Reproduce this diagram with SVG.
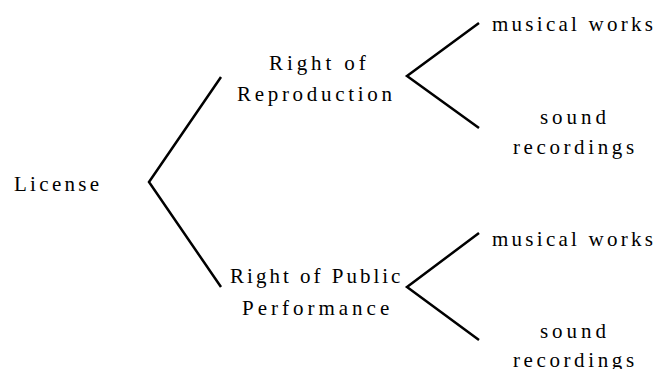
<svg xmlns="http://www.w3.org/2000/svg" width="657" height="369" viewBox="0 0 657 369">
<style>
.c{fill:none;stroke:#000;stroke-width:2.5;stroke-linecap:butt;stroke-linejoin:miter}
.t{font-family:'Liberation Serif','Times New Roman',serif;font-size:21px;fill:#000}
</style>
<rect width="657" height="369" fill="#fff"/>
<g id="connectors">
<polyline class="c" points="221,77 149,182 221,287"/>
<polyline class="c" points="479,23 407,76 479,128"/>
<polyline class="c" points="479,233 407,287 479,340"/>
</g>
<g id="license"><text class="t" x="14 30.1 39.3 51.9 64.5 78.3 89.8" y="191">License</text></g>
<g id="reproduction">
<text class="t" x="269 286.9 296.7 311.1 325.5 335.2 344.3 358.7" y="70">Right of</text>
<text class="t" x="237 254.7 267.7 281.9 292.6 306.8 321 335.2 348.2 357.8 367.3 381.5" y="101">Reproduction</text>
</g>
<g id="performance">
<text class="t" x="230 247 255.9 269.4 282.9 291.7 299.9 313.4 323.4 331.7 346.4 359.9 373.4 382.2 391" y="283">Right of Public</text>
<text class="t" x="242 257.7 271 282 293 307.5 318.5 338.8 352.1 366.6 380" y="315">Performance</text>
</g>
<g id="repro-musical"><text class="t" x="492 511.6 525.3 536.8 545.9 558.4 571 580.1 588.6 607 620.7 631 644.7" y="31">musical works</text></g>
<g id="repro-sound">
<text class="t" x="540 552.1 566.6 581 595.5" y="124">sound</text>
<text class="t" x="513 523.6 536.5 549.4 563.5 574.1 588.2 597.7 611.8 625.9" y="154">recordings</text>
</g>
<g id="perf-musical"><text class="t" x="492 511.6 525.3 536.8 545.9 558.4 571 580.1 588.6 607 620.7 631 644.7" y="246">musical works</text></g>
<g id="perf-sound">
<text class="t" x="540 552.1 566.6 581 595.5" y="338">sound</text>
<text class="t" x="513 523.6 536.5 549.4 563.5 574.1 588.2 597.7 611.8 625.9" y="367">recordings</text>
</g>
</svg>
